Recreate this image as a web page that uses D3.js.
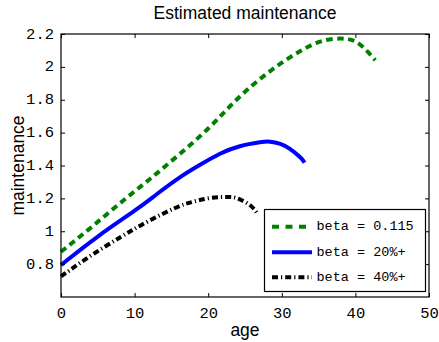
<!DOCTYPE html>
<html>
<head>
<meta charset="utf-8">
<script src="https://cdn.jsdelivr.net/npm/d3@7"></script>
<style>
  html, body { margin: 0; padding: 0; background: #fff; }
  svg { display: block; }
  .tick text { font-family: "Liberation Mono", "DejaVu Sans Mono", monospace; font-size: 15.5px; fill: #000; }
</style>
</head>
<body>
<svg id="chart" width="439" height="342"></svg>
<script>
// Estimated maintenance by age for three beta settings
const ageGreen = [0, 4, 8, 12, 16, 20, 23.4, 27, 31, 35, 38, 40, 41.5, 42.7];
const valGreen = [0.875, 1.02, 1.17, 1.315, 1.465, 1.625, 1.78, 1.925, 2.055, 2.15, 2.172, 2.155, 2.1, 2.04];

const ageBlue = [0, 5, 10, 13, 16.2, 18.9, 21.6, 24.3, 27, 28.4, 29.8, 31.1, 32.5, 33.1];
const valBlue = [0.795, 0.968, 1.125, 1.225, 1.329, 1.404, 1.471, 1.517, 1.541, 1.545, 1.531, 1.501, 1.45, 1.418];

const ageBlack = [0, 4, 8, 11, 14, 16.2, 17.5, 20.2, 23, 24.3, 25.7, 26.6];
const valBlack = [0.725, 0.85, 0.962, 1.04, 1.11, 1.155, 1.174, 1.202, 1.208, 1.194, 1.158, 1.113];

const seriesNames = ["beta = 0.115", "beta = 20%+", "beta = 40%+"];
const xTicks = [0, 10, 20, 30, 40, 50];
const yTicks = [0.8, 1, 1.2, 1.4, 1.6, 1.8, 2, 2.2];

const svg = d3.select("#chart");
const plotLeft = 61, plotRight = 429, plotTop = 34, plotBottom = 297;

const x = d3.scaleLinear().domain([0, 50]).range([plotLeft, plotRight]);
const y = d3.scaleLinear().domain([0.6, 2.2]).range([plotBottom, plotTop]);

const series = [
  { name: seriesNames[0], ages: ageGreen, vals: valGreen, color: "#008000", dash: "6.5,4.5", width: 4 },
  { name: seriesNames[1], ages: ageBlue, vals: valBlue, color: "#0000ff", dash: null, width: 4 },
  { name: seriesNames[2], ages: ageBlack, vals: valBlack, color: "#000000", dash: "6,3,1.2,3", width: 4 }
];

const line = d3.line()
  .x(d => x(d[0]))
  .y(d => y(d[1]))
  .curve(d3.curveNatural);

// plot lines
series.forEach(s => {
  const pts = s.ages.map((a, i) => [a, s.vals[i]]);
  const p = svg.append("path")
    .datum(pts)
    .attr("d", line)
    .attr("fill", "none")
    .attr("stroke", s.color)
    .attr("stroke-width", s.width);
  if (s.dash) p.attr("stroke-dasharray", s.dash);
});

// axes with inward ticks on all four sides
const tickLen = 4;
const xAxisG = svg.append("g")
  .attr("transform", `translate(0,${plotBottom})`)
  .call(d3.axisBottom(x).tickValues(xTicks).tickSizeInner(-tickLen).tickSizeOuter(0).tickPadding(11).tickFormat(d3.format("d")))
  .call(g => g.select(".domain").remove());
svg.append("g")
  .attr("transform", `translate(0,${plotTop})`)
  .call(d3.axisTop(x).tickValues(xTicks).tickSizeInner(-tickLen).tickSizeOuter(0).tickFormat(""))
  .call(g => g.select(".domain").remove());
const yAxisG = svg.append("g")
  .attr("transform", `translate(${plotLeft},0)`)
  .call(d3.axisLeft(y).tickValues(yTicks).tickSizeInner(-tickLen).tickSizeOuter(0).tickPadding(7).tickFormat(d => d === 1 || d === 2 ? String(d) : d3.format(".1f")(d)))
  .call(g => g.select(".domain").remove());
svg.append("g")
  .attr("transform", `translate(${plotRight},0)`)
  .call(d3.axisRight(y).tickValues(yTicks).tickSizeInner(-tickLen).tickSizeOuter(0).tickFormat(""))
  .call(g => g.select(".domain").remove());

svg.selectAll(".tick line").attr("stroke", "#000");
yAxisG.selectAll(".tick text").attr("dy", null).attr("dominant-baseline", "middle");
xAxisG.selectAll(".tick text").attr("dy", null).attr("dominant-baseline", "hanging");

// axes box
svg.append("rect")
  .attr("x", plotLeft).attr("y", plotTop)
  .attr("width", plotRight - plotLeft).attr("height", plotBottom - plotTop)
  .attr("fill", "none").attr("stroke", "#000").attr("stroke-width", 1.2);

// title and axis labels
const labelFont = "'Liberation Sans', Arial, sans-serif";
svg.append("text")
  .attr("x", (plotLeft + plotRight) / 2).attr("y", 19)
  .attr("text-anchor", "middle")
  .style("font-family", labelFont).style("font-size", "17.5px")
  .text("Estimated maintenance");
svg.append("text")
  .attr("x", (plotLeft + plotRight) / 2).attr("y", 336)
  .attr("text-anchor", "middle")
  .style("font-family", labelFont).style("font-size", "17.5px")
  .text("age");
svg.append("text")
  .attr("transform", `translate(23.5,${(plotTop + plotBottom) / 2}) rotate(-90)`)
  .attr("text-anchor", "middle")
  .style("font-family", labelFont).style("font-size", "17.5px")
  .text("maintenance");

// legend
const lg = svg.append("g");
lg.append("rect")
  .attr("x", 264.5).attr("y", 209.5)
  .attr("width", 161).attr("height", 82)
  .attr("fill", "#fff").attr("stroke", "#000").attr("stroke-width", 1.2);
const rowY = [226.7, 252.3, 277.3];
series.forEach((s, i) => {
  const l = lg.append("line")
    .attr("x1", 272).attr("x2", 312)
    .attr("y1", rowY[i]).attr("y2", rowY[i])
    .attr("stroke", s.color).attr("stroke-width", s.width);
  if (s.dash) l.attr("stroke-dasharray", i === 0 ? "7,6.5" : "6,3,1.2,3");
  lg.append("text")
    .attr("x", 316.5).attr("y", rowY[i])
    .attr("dominant-baseline", "middle")
    .style("font-family", "'Liberation Mono', 'DejaVu Sans Mono', monospace")
    .style("font-size", "13.5px")
    .text(s.name);
});
</script>
</body>
</html>
